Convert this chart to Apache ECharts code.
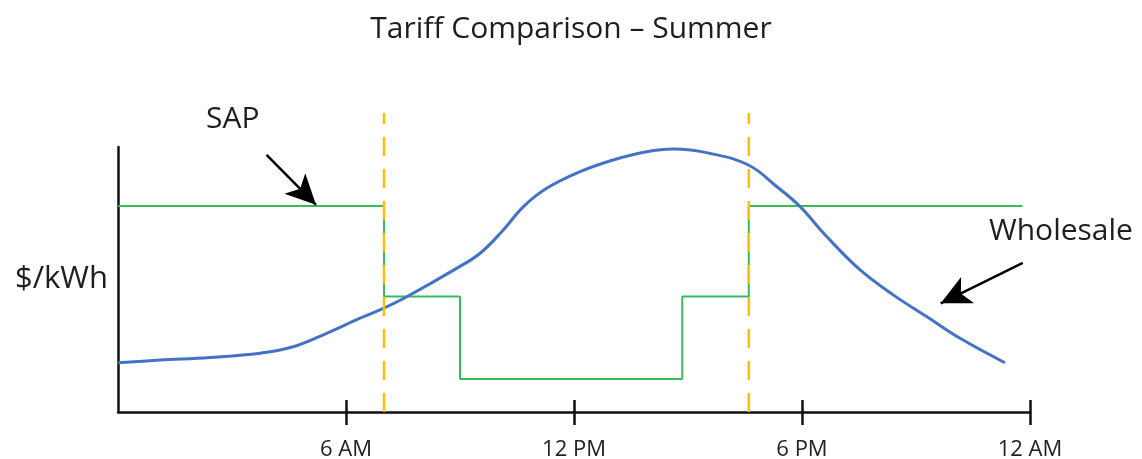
<!DOCTYPE html>
<html>
<head>
<meta charset="utf-8">
<script src="https://cdn.jsdelivr.net/npm/echarts@6/dist/echarts.min.js"></script>
<style>
html,body{margin:0;padding:0;background:#fff;}
#chart{width:1142px;height:459px;}
</style>
</head>
<body>
<div id="chart"></div>
<script>
// ---- data (hours of day, relative $/kWh on a 0–100 scale) ----
var wholesaleHours  = [0, 1.11, 2.42, 3.74, 4.61, 5.49, 6.37, 6.98, 7.60, 8.91, 9.53, 10.14, 10.67, 11.28, 12.16, 13.03, 13.91, 14.61, 15.58, 16.59, 17.34, 17.95, 18.65, 19.53, 20.40, 21.28, 22.16, 23.34];
var wholesaleValues = [18.6, 19.6, 20.6, 22.2, 24.6, 29.7, 35.4, 39.1, 43.5, 54.2, 59.9, 68.7, 77.5, 84.4, 90.7, 95.1, 98.2, 99.2, 97.6, 93.2, 85.0, 77.5, 66.2, 53.6, 44.2, 36.0, 27.8, 18.6];
var sapHours  = [0, 7, 9, 14.85, 16.6, 23.8];
var sapValues = [77.7, 43.6, 12.5, 43.6, 77.7, 77.7];
var peakBoundHours = [7, 16.6];
var peakLineTop = 112.8;
var tickHours  = [6, 12, 18, 24];
var tickLabels = ['6 AM', '12 PM', '6 PM', '12 AM'];

var FONT = 'Open Sans';

function pairs(xs, ys) { return xs.map(function (x, i) { return [x, ys[i]]; }); }

var arrowStyle = {
  silent: true, symbol: ['none', 'arrow'], symbolSize: [22, 30],
  lineStyle: { color: '#000', width: 2.5, type: 'solid', opacity: 1 },
  itemStyle: { color: '#000' }, label: { show: false }, emphasis: { disabled: true }
};

var series = [
  {
    name: 'Wholesale', type: 'line', smooth: 0.4, showSymbol: false,
    data: pairs(wholesaleHours, wholesaleValues),
    lineStyle: { color: '#4472C4', width: 3 }, z: 3,
    markLine: Object.assign({}, arrowStyle, {
      data: [[{ coord: [23.81, 56.3] }, { coord: [21.65, 41.0] }]]
    })
  },
  {
    name: 'SAP', type: 'line', step: 'end', showSymbol: false,
    data: pairs(sapHours, sapValues),
    lineStyle: { color: '#36bb5e', width: 2 }, z: 2,
    markLine: Object.assign({}, arrowStyle, {
      data: [[{ coord: [3.91, 97.0] }, { coord: [5.21, 78.2] }]]
    })
  }
];
peakBoundHours.forEach(function (h) {
  series.push({
    type: 'line', showSymbol: false, clip: false, silent: true, z: 4,
    data: [[h, 0], [h, peakLineTop]],
    lineStyle: { color: '#FFC000', width: 2.5, type: [19, 13] }
  });
});

var chart = echarts.init(document.getElementById('chart'), null, { renderer: 'canvas' });
chart.setOption({
  animation: false,
  backgroundColor: '#fff',
  title: {
    text: 'Tariff Comparison – Summer', left: 'center', top: 9,
    textStyle: { fontFamily: FONT, fontSize: 30, fontWeight: 'normal', color: '#1e1e1e' }
  },
  grid: { left: 118, right: 112, top: 147, bottom: 47, containLabel: false, outerBoundsMode: 'none' },
  xAxis: [
    {
      type: 'value', min: 0, max: 24, interval: 6,
      splitLine: { show: false },
      axisLine: { show: true, lineStyle: { color: '#111', width: 2.5 } },
      axisTick: { show: true, customValues: tickHours, length: 13, lineStyle: { color: '#111', width: 2.5 } },
      axisLabel: {
        show: true, customValues: tickHours, margin: 27,
        fontFamily: FONT, fontSize: 22, color: '#222',
        formatter: function (v) { var i = tickHours.indexOf(v); return i >= 0 ? tickLabels[i] : ''; }
      }
    },
    {
      type: 'value', min: 0, max: 24, interval: 6, position: 'bottom',
      splitLine: { show: false }, axisLine: { show: false },
      axisTick: { show: true, inside: true, customValues: tickHours, length: 12, lineStyle: { color: '#111', width: 2.5 } },
      axisLabel: { show: false }
    }
  ],
  yAxis: {
    type: 'value', min: 0, max: 100,
    name: '$/kWh', nameLocation: 'middle', nameRotate: 0, nameGap: 10,
    nameTextStyle: { fontFamily: FONT, fontSize: 31, color: '#1e1e1e', align: 'right', verticalAlign: 'middle' },
    splitLine: { show: false },
    axisLine: { show: true, lineStyle: { color: '#111', width: 2.5 } },
    axisTick: { show: false }, axisLabel: { show: false }
  },
  graphic: [
    { type: 'text', left: 206, top: 104, style: { text: 'SAP', font: '30px "Open Sans"', fill: '#1e1e1e' } },
    { type: 'text', left: 989, top: 216, style: { text: 'Wholesale', font: '30px "Open Sans"', fill: '#1e1e1e' } }
  ],
  series: series
});
</script>
</body>
</html>
